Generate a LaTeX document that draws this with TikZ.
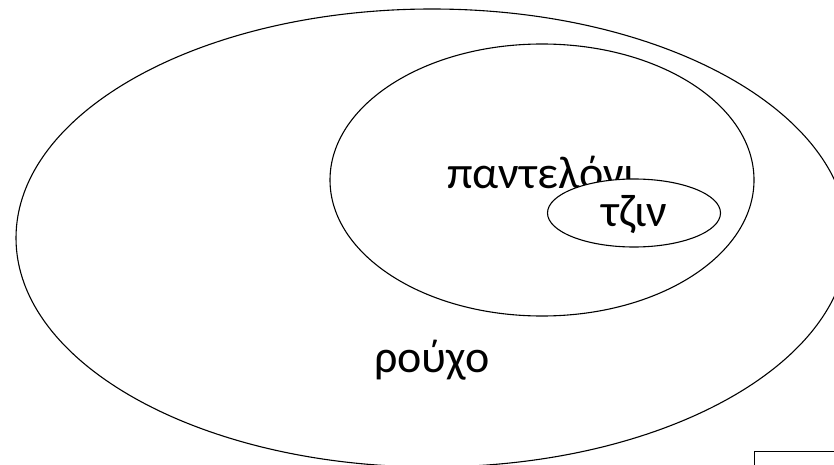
\documentclass[tikz,border=0pt]{standalone}
\usepackage{fontspec}
\setmainfont{Carlito}
\usetikzlibrary{shapes.geometric}
\begin{document}
\begin{tikzpicture}[x=1pt, y=-1pt, line width=1.1pt, every node/.style={font=\fontsize{46}{54}\selectfont}]
  \useasboundingbox (0,0) rectangle (834,465);
  \clip (0,0) rectangle (834,465);
  \node [draw,ellipse,minimum width=832,minimum height=458] (rouxo) at (432,238) {};
  \node [draw,ellipse,minimum width=424,minimum height=272] (panteloni) at (542,180) {};
  \node [anchor=base] (panteloni-text) at (542,188) {παντελόνι};
  \node [draw,ellipse,fill=white,minimum width=173,minimum height=68] (tzin) at (634,213) {};
  \node [anchor=base] (tzin-text) at (634,226) {τζιν};
  \node [anchor=base] (rouxo-text) at (432,372) {ρούχο};
  \node [draw,anchor=north west,minimum width=120,minimum height=60] (box) at (754,451) {};
\end{tikzpicture}
\end{document}
